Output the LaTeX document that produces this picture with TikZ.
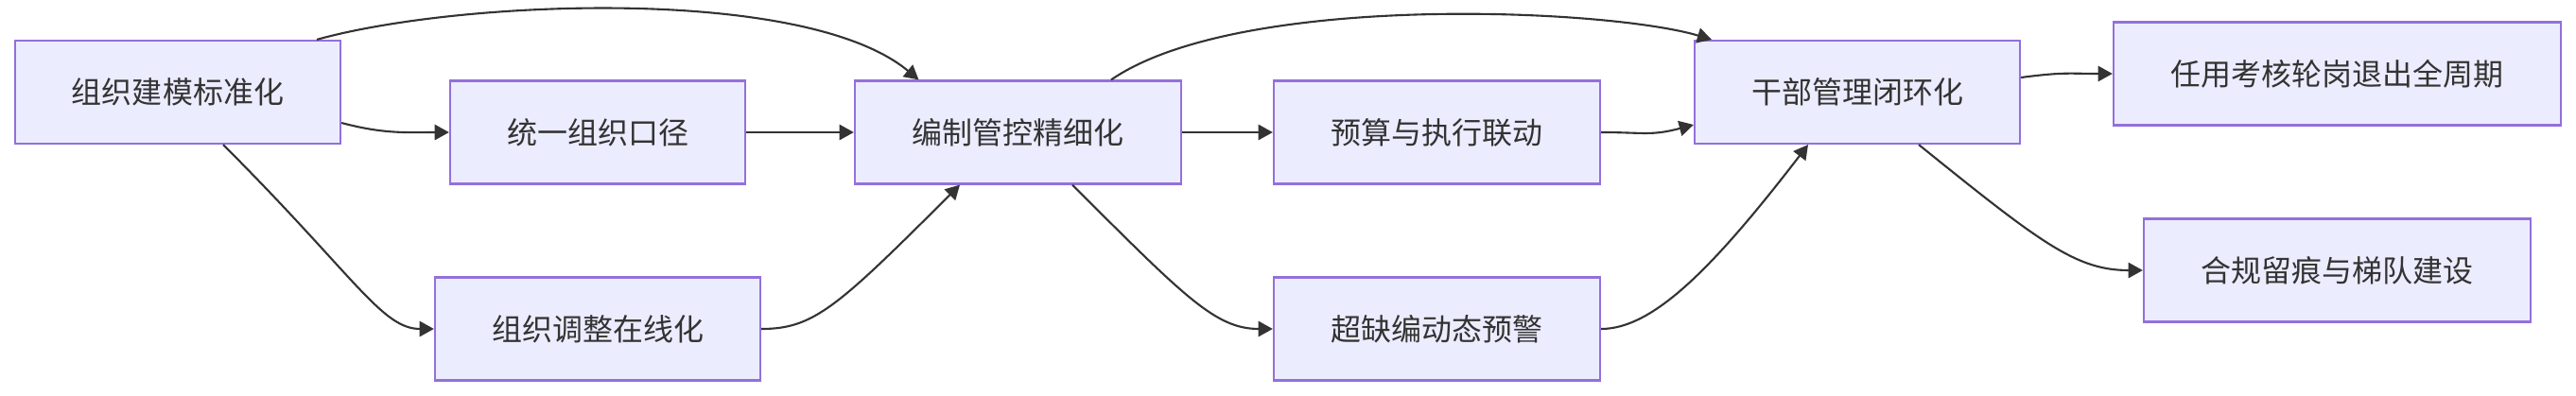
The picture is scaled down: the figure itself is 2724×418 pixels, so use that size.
\documentclass[tikz,border=0pt]{standalone}
\usepackage{fontspec}
\setmainfont{Noto Sans CJK SC}
\usepackage{xcolor}
\usepackage{tikz}
\usetikzlibrary{arrows.meta,positioning,calc}

\definecolor{boxfill}{HTML}{ECECFF}
\definecolor{boxline}{HTML}{9370DB}
\definecolor{inkgray}{HTML}{333333}

\tikzset{
    stage/.style={draw=boxline, fill=boxfill, line width=0.6pt,
        minimum height=1.09cm, inner sep=0pt, text=inkgray,
        font=\fontsize{9.1pt}{11pt}\selectfont},
    flow/.style={draw=inkgray, line width=0.6pt,
        -{Triangle[length=4.3pt,width=4.6pt]}}
}

\begin{document}
\begin{tikzpicture}[x=0.01cm,y=-0.01cm]
    \useasboundingbox (0,0) rectangle (2724,418);

    % boxes
    \node[stage, minimum width=3.44cm] (model)   at (188,97.5)  {组织建模标准化};
    \node[stage, minimum width=3.12cm] (unify)   at (632,140)   {统一组织口径};
    \node[stage, minimum width=3.44cm] (online)  at (632,348)   {组织调整在线化};
    \node[stage, minimum width=3.45cm] (quota)   at (1076.5,140) {编制管控精细化};
    \node[stage, minimum width=3.45cm] (budget)  at (1519.5,140) {预算与执行联动};
    \node[stage, minimum width=3.45cm] (warn)    at (1519.5,348) {超缺编动态预警};
    \node[stage, minimum width=3.44cm] (cadre)   at (1964,97.5)  {干部管理闭环化};
    \node[stage, minimum width=4.73cm] (cycle)   at (2471.5,78)  {任用考核轮岗退出全周期};
    \node[stage, minimum width=4.09cm] (trace)   at (2471.5,286) {合规留痕与梯队建设};

    % links
    \draw[flow] ($(model.north)+(147,0)$) .. controls +(150,-42) and +(-120,-100) .. ($(quota.north)+(-105,0)$);
    \draw[flow] ($(model.east)+(0,32.5)$) .. controls +(45,12) and +(-45,0) .. (unify.west);
    \draw[flow] ($(model.south)+(48,0)$) .. controls +(140,140) and +(-55,0) .. (online.west);
    \draw[flow] (unify.east) -- (quota.west);
    \draw[flow] (online.east) .. controls +(55,0) and +(-130,130) .. ($(quota.south)+(-61.5,0)$);
    \draw[flow] (quota.east) -- (budget.west);
    \draw[flow] ($(quota.north)+(98.5,0)$) .. controls +(135,-93) and +(-110,-33) .. ($(cadre.north)+(-154,0)$);
    \draw[flow] ($(quota.south)+(57.5,0)$) .. controls +(120,120) and +(-60,0) .. (warn.west);
    \draw[flow] (budget.east) .. controls +(45,0) and +(-45,12) .. ($(cadre.west)+(0,34.5)$);
    \draw[flow] (warn.east) .. controls +(55,0) and +(-100,130) .. ($(cadre.south)+(-52,0)$);
    \draw[flow] ($(cadre.east)+(0,-15.5)$) .. controls +(45,-6) and +(-45,0) .. (cycle.west);
    \draw[flow] ($(cadre.south)+(65,0)$) .. controls +(130,105) and +(-70,0) .. (trace.west);
\end{tikzpicture}
\end{document}
